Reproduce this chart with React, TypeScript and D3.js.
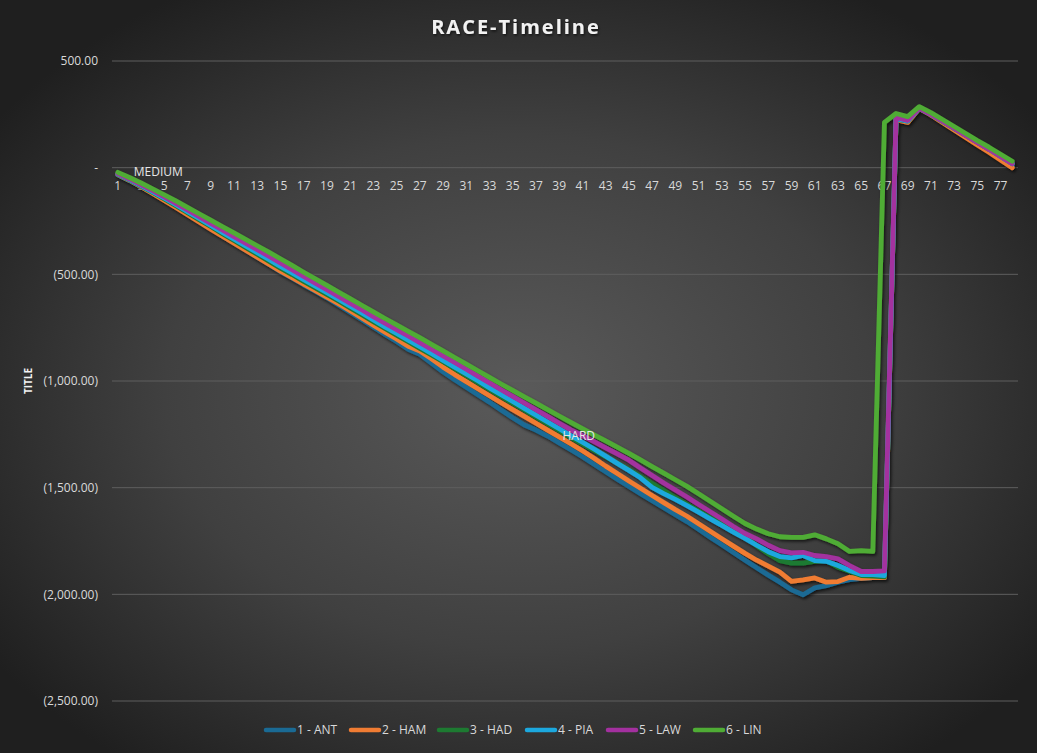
import * as d3 from "d3";

const laps = d3.range(1, 79);

const ant = [
  -34, -60, -89, -119, -151, -184, -218, -252, -286, -320,
  -353, -386, -420, -453, -487, -517, -549, -579, -610, -643,
  -677, -712, -747, -782, -815, -851, -875, -916, -957, -994,
  -1029, -1064, -1099, -1136, -1172, -1206, -1230, -1258, -1290, -1322,
  -1355, -1390, -1425, -1460, -1494, -1528, -1561, -1594, -1627, -1659,
  -1695, -1732, -1768, -1804, -1840, -1875, -1910, -1943, -1979, -2002,
  -1970, -1959, -1943, -1931, -1925, -1922, -1922, 228, 215, 278,
  248, 214, 179, 145, 110, 76, 42, 8,
];
const ham = [
  -32, -59, -89, -121, -153, -186, -220, -254, -288, -321,
  -354, -387, -420, -452, -485, -515, -546, -576, -607, -638,
  -671, -704, -738, -771, -803, -837, -859, -896, -935, -970,
  -1003, -1036, -1069, -1102, -1134, -1166, -1198, -1230, -1262, -1294,
  -1327, -1362, -1399, -1434, -1469, -1503, -1537, -1570, -1603, -1634,
  -1669, -1704, -1739, -1774, -1808, -1840, -1868, -1896, -1939, -1932,
  -1923, -1943, -1940, -1920, -1925, -1922, -1922, 225, 212, 278,
  247, 212, 176, 141, 106, 72, 36, 0,
];
const had = [
  -31, -57, -86, -116, -146, -178, -211, -244, -276, -309,
  -341, -374, -406, -438, -471, -501, -533, -563, -594, -625,
  -657, -689, -722, -754, -785, -816, -847, -878, -910, -942,
  -975, -1007, -1040, -1072, -1104, -1136, -1168, -1200, -1232, -1264,
  -1295, -1325, -1355, -1385, -1415, -1448, -1481, -1514, -1547, -1578,
  -1609, -1640, -1669, -1700, -1730, -1772, -1810, -1842, -1854, -1854,
  -1845, -1842, -1873, -1892, -1912, -1915, -1918, 228, 218, 278,
  250, 217, 184, 151, 118, 86, 52, 18,
];
const pia = [
  -30, -56, -84, -113, -143, -174, -206, -238, -271, -303,
  -335, -367, -399, -430, -463, -493, -525, -555, -586, -617,
  -649, -681, -714, -746, -777, -808, -839, -871, -903, -935,
  -967, -999, -1032, -1064, -1096, -1128, -1160, -1192, -1224, -1256,
  -1287, -1319, -1352, -1386, -1419, -1454, -1499, -1528, -1555, -1584,
  -1615, -1646, -1677, -1708, -1738, -1770, -1800, -1823, -1829, -1818,
  -1842, -1845, -1865, -1888, -1907, -1907, -1912, 230, 218, 278,
  250, 218, 185, 152, 119, 87, 53, 18,
];
const law = [
  -28, -53, -80, -108, -137, -167, -198, -230, -261, -292,
  -323, -354, -384, -415, -447, -478, -510, -541, -572, -603,
  -635, -666, -698, -729, -759, -789, -820, -851, -882, -913,
  -945, -977, -1009, -1041, -1072, -1103, -1135, -1166, -1198, -1229,
  -1256, -1284, -1313, -1342, -1371, -1408, -1443, -1478, -1511, -1544,
  -1579, -1613, -1647, -1682, -1715, -1740, -1770, -1795, -1806, -1803,
  -1818, -1823, -1834, -1865, -1893, -1893, -1890, 236, 222, 278,
  250, 218, 185, 151, 118, 86, 52, 19,
];
const lin = [
  -22, -46, -72, -99, -127, -156, -186, -216, -246, -276,
  -306, -336, -366, -396, -427, -458, -490, -521, -552, -583,
  -614, -645, -676, -707, -737, -767, -797, -828, -859, -890,
  -921, -952, -983, -1014, -1044, -1074, -1104, -1134, -1164, -1194,
  -1223, -1252, -1281, -1310, -1339, -1370, -1401, -1432, -1463, -1494,
  -1529, -1564, -1599, -1634, -1668, -1694, -1716, -1730, -1733, -1733,
  -1721, -1740, -1763, -1799, -1795, -1799, 212, 254, 239, 286,
  258, 226, 193, 160, 127, 96, 63, 30,
];

const seriesNames = ["1 - ANT", "2 - HAM", "3 - HAD", "4 - PIA", "5 - LAW", "6 - LIN"];
const seriesValues = [ant, ham, had, pia, law, lin];
const seriesColors = ["#1a6a94", "#f07c33", "#1d7a31", "#1ca8de", "#a3309f", "#4fac35"];

const yTicks = [500, 0, -500, -1000, -1500, -2000, -2500];

// tyre compound labels sit on a series point
const tyreLabels = [
  { text: "MEDIUM", series: 5, lap: 1, dx: 16, dy: -1, anchor: "start" },
  { text: "HARD", series: 3, lap: 40, dx: 8, dy: 0, anchor: "middle" },
];

const width = 1037;
const height = 753;
const margin = { top: 61, right: 19, bottom: 52, left: 112 };

const fmt = d3.format(",.2f");
function yLabel(v: number) {
  if (v === 0) return "-";
  return v < 0 ? `(${fmt(-v)})` : fmt(v);
}

export default function App() {
  const x = d3
    .scalePoint<number>()
    .domain(laps)
    .range([margin.left, width - margin.right])
    .padding(0.5);
  const y = d3
    .scaleLinear()
    .domain([-2500, 500])
    .range([height - margin.bottom, margin.top]);

  const line = d3
    .line<number>()
    .x((_, i) => x(laps[i]) as number)
    .y((d) => y(d));

  const font = "'Open Sans', 'Liberation Sans', sans-serif";
  const legendX = [264, 349, 437, 525, 606, 693];

  return (
    <svg
      width={width}
      height={height}
      style={{ position: "absolute", left: 0, top: 0, fontFamily: font }}
    >
      <defs>
        <radialGradient id="bg" cx="50%" cy="52%" r="62%">
          <stop offset="0%" stopColor="#5a5a5a" />
          <stop offset="55%" stopColor="#404040" />
          <stop offset="100%" stopColor="#1f1f1f" />
        </radialGradient>
        <filter id="shadow" x="-10%" y="-10%" width="120%" height="120%">
          <feDropShadow dx="1.5" dy="2" stdDeviation="1.6" floodColor="#000" floodOpacity="0.65" />
        </filter>
        <filter id="tshadow" x="-10%" y="-30%" width="120%" height="160%">
          <feDropShadow dx="1" dy="1.5" stdDeviation="1" floodColor="#000" floodOpacity="0.6" />
        </filter>
      </defs>
      <rect width={width} height={height} fill="url(#bg)" />

      <text
        x={516}
        y={34}
        textAnchor="middle"
        fill="#f2f2f2"
        fontSize={20}
        fontWeight="bold"
        letterSpacing={2}
        filter="url(#tshadow)"
      >
        RACE-Timeline
      </text>

      {yTicks.map((t) => (
        <g key={t}>
          <line
            x1={margin.left}
            x2={width - margin.right}
            y1={y(t)}
            y2={y(t)}
            stroke="#5e5e5e"
            strokeWidth={1}
          />
          <text
            x={98}
            y={y(t)}
            dy="0.35em"
            textAnchor="end"
            fill="#d9d9d9"
            fontSize={12}
          >
            {yLabel(t)}
          </text>
        </g>
      ))}

      <text
        transform={`translate(32,${(margin.top + height - margin.bottom) / 2}) rotate(-90)`}
        textAnchor="middle"
        fill="#f2f2f2"
        fontSize={10}
        fontWeight="bold"
      >
        TITLE
      </text>

      {laps
        .filter((l) => l % 2 === 1)
        .map((l) => (
          <text
            key={l}
            x={x(l)}
            y={y(0) + 18}
            dy="0.35em"
            textAnchor="middle"
            fill="#d9d9d9"
            fontSize={12}
          >
            {l}
          </text>
        ))}

      <g filter="url(#shadow)">
        {seriesValues.map((vals, i) => (
          <path
            key={seriesNames[i]}
            d={line(vals) || ""}
            fill="none"
            stroke={seriesColors[i]}
            strokeWidth={4.8}
            strokeLinejoin="round"
            strokeLinecap="round"
          />
        ))}
      </g>

      {tyreLabels.map((t) => (
        <text
          key={t.text}
          x={(x(t.lap) as number) + t.dx}
          y={y(seriesValues[t.series][t.lap - 1]) + t.dy}
          dy="0.35em"
          textAnchor={t.anchor}
          fill="#e6e6e6"
          fontSize={12}
        >
          {t.text}
        </text>
      ))}

      {seriesNames.map((n, i) => (
        <g key={n} transform={`translate(${legendX[i]},730)`}>
          <line
            x1={2}
            x2={30}
            y1={0}
            y2={0}
            stroke={seriesColors[i]}
            strokeWidth={4.5}
            strokeLinecap="round"
          />
          <text x={33} y={0} dy="0.35em" fill="#d9d9d9" fontSize={12}>
            {n}
          </text>
        </g>
      ))}
    </svg>
  );
}
